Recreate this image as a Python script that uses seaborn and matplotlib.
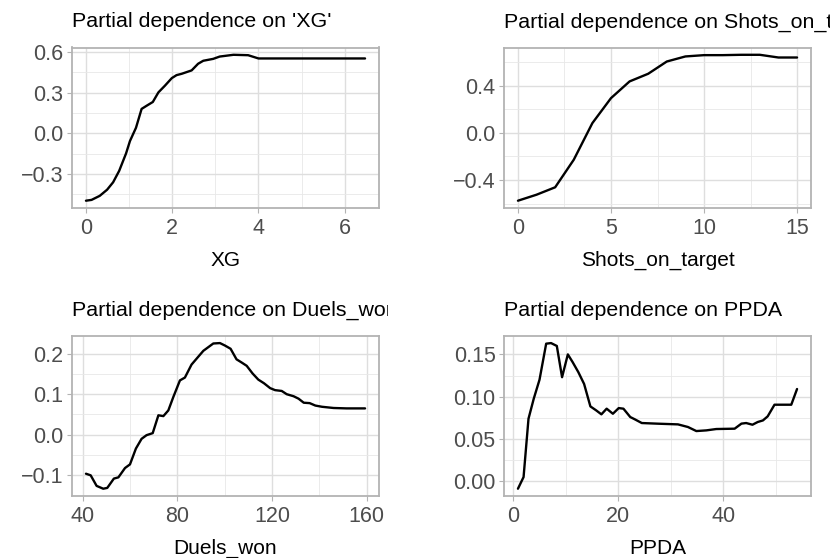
import matplotlib
matplotlib.use("Agg")
import matplotlib.pyplot as plt
from matplotlib.transforms import Bbox, TransformedBbox
from matplotlib.ticker import FixedLocator
import seaborn as sns
import pandas as pd

# ---------------- data ----------------
xg_x = [0.0, 0.13, 0.32, 0.49, 0.63, 0.77, 0.93, 1.02, 1.16, 1.29, 1.41, 1.55, 1.68,
        1.83, 1.99, 2.10, 2.22, 2.45, 2.60, 2.72, 2.95, 3.10, 3.42, 3.76, 4.00, 6.47]
xg_pd = [-0.496, -0.49, -0.46, -0.415, -0.36, -0.276, -0.147, -0.056, 0.042, 0.181,
         0.205, 0.232, 0.303, 0.352, 0.408, 0.43, 0.44, 0.465, 0.514, 0.536, 0.55,
         0.567, 0.58, 0.577, 0.553, 0.553]

shots_x = list(range(16))
shots_pd = [-0.576, -0.525, -0.462, -0.228, 0.083, 0.295, 0.437, 0.502, 0.606, 0.649,
            0.66, 0.66, 0.663, 0.663, 0.64, 0.64]

duels_x = [41.4, 43.4, 45.9, 48.7, 50.4, 53.2, 55.1, 57.9, 60.0, 62.5, 64.9, 67.0, 69.6,
           72.0, 74.1, 76.2, 78.3, 81.1, 83.2, 86.0, 88.2, 91.0, 93.1, 95.2, 98.0, 100.1,
           102.5, 105.0, 107.2, 109.3, 111.8, 114.2, 116.6, 119.2, 121.3, 124.1, 126.2,
           129.1, 131.2, 133.4, 135.9, 138.3, 141.1, 146.0, 151.5, 159.3]
duels_pd = [-0.096, -0.1, -0.126, -0.133, -0.131, -0.108, -0.105, -0.082, -0.073, -0.034,
            -0.01, -0.001, 0.004, 0.048, 0.046, 0.06, 0.093, 0.134, 0.141, 0.173, 0.188,
            0.207, 0.216, 0.225, 0.226, 0.220, 0.212, 0.186, 0.178, 0.17, 0.151, 0.136,
            0.127, 0.115, 0.11, 0.108, 0.1, 0.095, 0.089, 0.079, 0.078, 0.072, 0.069,
            0.066, 0.065, 0.065]

ppda_x = [0.89, 1.96, 2.9, 3.9, 5.0, 6.27, 7.2, 8.3, 9.3, 10.4, 11.3, 12.4, 13.5, 14.7,
          15.8, 16.8, 17.8, 18.99, 20.1, 21.0, 22.3, 23.2, 24.5, 27.7, 31.4, 33.3, 34.9,
          36.8, 38.7, 42.2, 43.5, 44.4, 45.6, 46.6, 47.6, 48.5, 49.8, 53.0, 54.1]
ppda_pd = [-0.0091, 0.0047, 0.0738, 0.0975, 0.12, 0.1627, 0.1634, 0.16, 0.123, 0.15,
           0.141, 0.129, 0.115, 0.0884, 0.0837, 0.079, 0.0857, 0.0797, 0.0864, 0.0857,
           0.0758, 0.073, 0.0687, 0.0679, 0.0671, 0.064, 0.0592, 0.06, 0.0616, 0.062,
           0.068, 0.0687, 0.0667, 0.0699, 0.0718, 0.0766, 0.0904, 0.0904, 0.109]

titles = ["Partial dependence on 'XG'", "Partial dependence on Shots_on_target",
          "Partial dependence on Duels_won", "Partial dependence on PPDA"]
xlabels = ["XG", "Shots_on_target", "Duels_won", "PPDA"]

x_major = [[0, 2, 4, 6], [0, 5, 10, 15], [40, 80, 120, 160], [0, 20, 40]]
x_minor = [[1, 3, 5], [2.5, 7.5, 12.5], [60, 100, 140], [10, 30, 50]]
y_major = [[-0.3, 0.0, 0.3, 0.6], [-0.4, 0.0, 0.4], [-0.1, 0.0, 0.1, 0.2],
           [0.0, 0.05, 0.10, 0.15]]
y_labels = [["\u22120.3", "0.0", "0.3", "0.6"], ["\u22120.4", "0.0", "0.4"],
            ["\u22120.1", "0.0", "0.1", "0.2"], ["0.00", "0.05", "0.10", "0.15"]]
y_minor = [[-0.45, -0.15, 0.15, 0.45], [-0.6, -0.2, 0.2, 0.6], [-0.05, 0.05, 0.15],
           [0.025, 0.075, 0.125]]

# ---------------- style ----------------
sns.set_theme(style="white")
plt.rcParams["font.family"] = ["Liberation Sans", "DejaVu Sans"]

W, H = 830, 558
fig = plt.figure(figsize=(W / 100, H / 100), dpi=100)

boxes = [(72, 47.5, 379, 208), (504, 47.5, 811, 208),
         (72, 335.8, 379, 496), (504, 335.8, 811, 496)]
clip_right = [388, 830, 388, 830]

datasets = [(xg_x, xg_pd), (shots_x, shots_pd), (duels_x, duels_pd), (ppda_x, ppda_pd)]

for i, (x, y) in enumerate(datasets):
    l, t, r, b = boxes[i]
    ax = fig.add_axes([l / W, 1 - b / H, (r - l) / W, (b - t) / H])
    df = pd.DataFrame({"x": x, "y": y})
    sns.lineplot(data=df, x="x", y="y", ax=ax, color="black", linewidth=1.7,
                 estimator=None, sort=False)
    ax.margins(x=0.05, y=0.05)
    ax.xaxis.set_major_locator(FixedLocator(x_major[i]))
    ax.xaxis.set_minor_locator(FixedLocator(x_minor[i]))
    ax.yaxis.set_major_locator(FixedLocator(y_major[i]))
    ax.yaxis.set_minor_locator(FixedLocator(y_minor[i]))
    ax.set_xticklabels([str(v) for v in x_major[i]])
    ax.set_yticklabels(y_labels[i])
    ax.grid(True, which="major", color="#DEDEDE", linewidth=1.0)
    ax.grid(True, which="minor", color="#E8E8E8", linewidth=0.6)
    ax.set_axisbelow(True)
    for s in ax.spines.values():
        s.set_color("#B3B3B3")
        s.set_linewidth(1.3)
    ax.tick_params(axis="both", which="major", length=3.6, width=0.8, color="#B3B3B3",
                   labelsize=15.5, labelcolor="#4D4D4D", bottom=True, left=True)
    ax.tick_params(axis="x", which="major", pad=3.5)
    ax.tick_params(axis="y", which="major", pad=2.5)
    ax.tick_params(axis="both", which="minor", length=0)
    ax.set_xlabel(xlabels[i], fontsize=15, color="black")
    ax.xaxis.label.set_va("baseline")
    ax.xaxis.set_label_coords(0.5, -0.36)
    ax.set_ylabel("")
    ttl = ax.set_title(titles[i], loc="left", fontsize=15.4, color="black", pad=14.5)
    cb = TransformedBbox(Bbox([[0, 0], [clip_right[i] / W, 1]]), fig.transFigure)
    ttl.set_clip_box(cb)
    ttl.set_clip_on(True)

fig.savefig("out.png", dpi=100)
